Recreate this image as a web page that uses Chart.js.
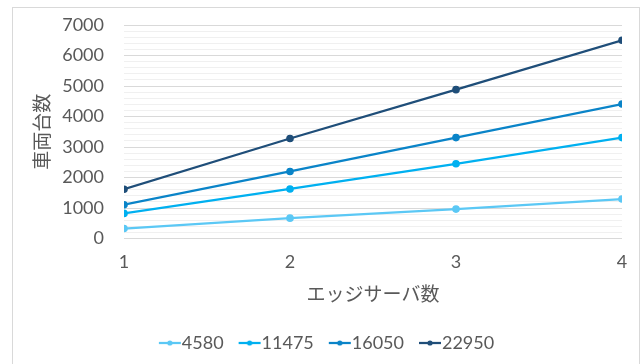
<!DOCTYPE html>
<html>
<head>
<meta charset="utf-8">
<script src="https://cdn.jsdelivr.net/npm/chart.js@4"></script>
<style>
  body { margin: 0; background: #fff; }
  #box { position: absolute; left: 12px; top: 7px; width: 626px; height: 370px; border: 1px solid #d9d9d9; }
  canvas { display: block; }
</style>
</head>
<body>
<div id="box"><canvas id="chart" width="626" height="356"></canvas></div>
<script>
const servers = [1, 2, 3, 4];
const seriesNames = ['4580', '11475', '16050', '22950'];
const v4580 = [330, 670, 967, 1297];
const v11475 = [825, 1627, 2452, 3310];
const v16050 = [1110, 2200, 3310, 4410];
const v22950 = [1617, 3280, 4880, 6500];
const colors = ['#5bc8f5', '#00b0f0', '#0a84c8', '#1f4e79'];

const font = "Lato, 'Noto Sans CJK JP', sans-serif";

function toPoints(vals) {
  return vals.map((v, i) => ({ x: servers[i], y: v }));
}

// legend marker: line with a dot, shifted right so it ends where the text begins
function legendIcon(color) {
  const c = document.createElement('canvas');
  c.width = 32; c.height = 8;
  const g = c.getContext('2d');
  g.strokeStyle = color; g.lineWidth = 2.25;
  g.beginPath(); g.moveTo(9, 4); g.lineTo(31, 4); g.stroke();
  g.fillStyle = color;
  g.beginPath(); g.arc(20, 4, 2.6, 0, Math.PI * 2); g.fill();
  return c;
}

const allValues = [v4580, v11475, v16050, v22950];

new Chart(document.getElementById('chart'), {
  type: 'scatter',
  data: {
    datasets: allValues.map((vals, i) => ({
      label: seriesNames[i],
      data: toPoints(vals),
      showLine: true,
      borderColor: colors[i],
      backgroundColor: colors[i],
      borderWidth: 2.25,
      pointRadius: 2.7,
      pointHoverRadius: 2.7,
      tension: 0
    }))
  },
  options: {
    animation: false,
    responsive: false,
    layout: { padding: { left: 18, right: 17, top: 17, bottom: 2 } },
    plugins: {
      tooltip: { enabled: false },
      legend: {
        position: 'bottom',
        labels: {
          font: { family: font, size: 18 },
          color: '#595959',
          usePointStyle: true,
          pointStyleWidth: 14,
          padding: 15,
          generateLabels: (chart) => chart.data.datasets.map((ds, i) => ({
            text: ds.label,
            pointStyle: legendIcon(colors[i]),
            fillStyle: colors[i],
            strokeStyle: colors[i],
            fontColor: '#595959',
            lineWidth: 0,
            datasetIndex: i
          }))
        }
      }
    },
    scales: {
      x: {
        type: 'linear',
        min: 1, max: 4,
        ticks: { stepSize: 1, font: { family: font, size: 18 }, color: '#595959', padding: 5 },
        grid: { display: false },
        border: { display: false },
        title: { display: true, text: 'エッジサーバ数', font: { family: font, size: 19 }, color: '#595959', padding: { top: 5, bottom: 13 } }
      },
      y: {
        min: 0, max: 7000,
        afterFit: (scale) => { scale.width = 93; },
        ticks: {
          stepSize: 200,
          autoSkip: false,
          font: { family: font, size: 18 },
          color: '#595959',
          padding: 4,
          callback: (v) => (v % 1000 === 0 ? String(v) : '')
        },
        grid: {
          drawTicks: true,
          tickLength: 16,
          tickColor: 'rgba(0,0,0,0)',
          color: (ctx) => (ctx.tick && ctx.tick.value % 1000 === 0 ? '#d9d9d9' : '#f0f0f0'),
          lineWidth: 1
        },
        border: { display: false },
        title: { display: true, text: '車両台数', font: { family: font, size: 19 }, color: '#595959', padding: { top: 0, bottom: 0 } }
      }
    }
  }
});
</script>
</body>
</html>
